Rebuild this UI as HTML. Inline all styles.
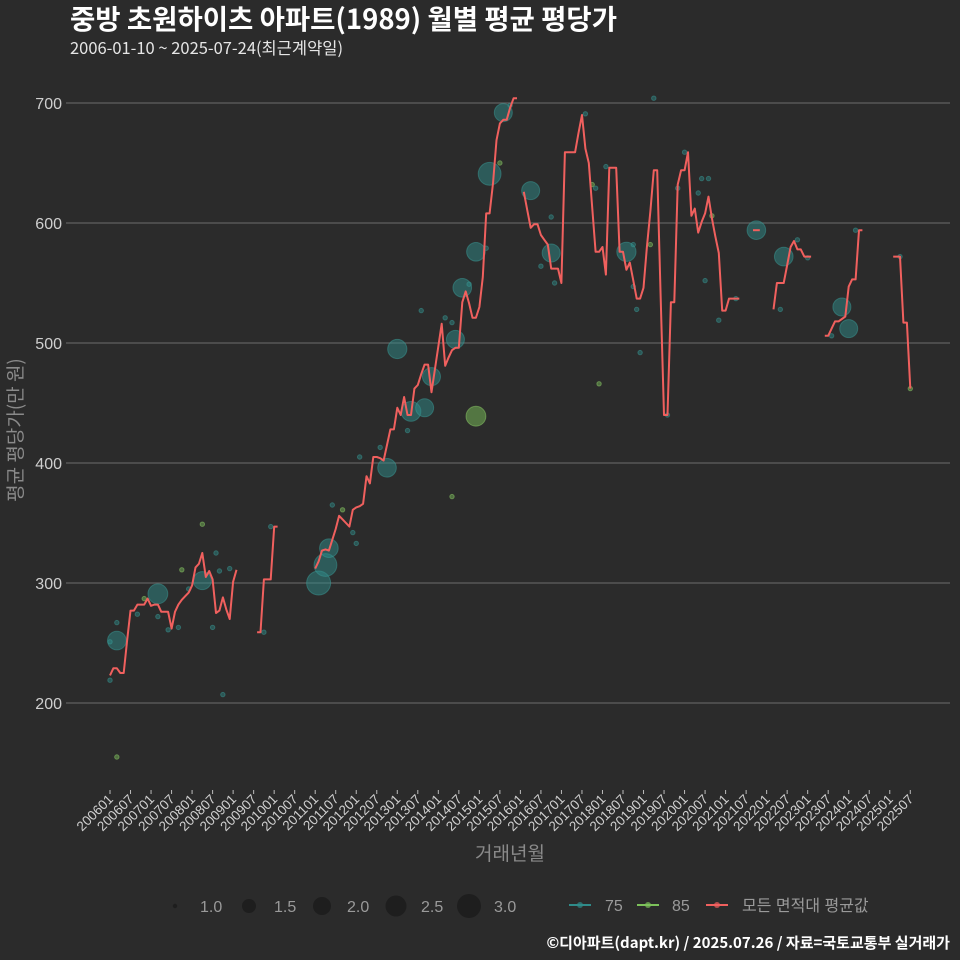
<!DOCTYPE html>
<html><head><meta charset="utf-8">
<style>
html,body{margin:0;padding:0;background:#2b2b2b;}
svg{display:block;font-family:"Liberation Sans","Noto Sans CJK KR",sans-serif;}
</style></head>
<body>
<svg id="chart" width="960" height="960" viewBox="0 0 960 960">
<rect x="0" y="0" width="960" height="960" fill="#2b2b2b"/>
<text x="70" y="29" fill="#ffffff" font-size="27.5" font-weight="bold" font-family="'Noto Sans CJK KR',sans-serif">중방 초원하이츠 아파트(1989) 월별 평균 평당가</text>
<text x="70" y="54" fill="#e6e6e6" font-size="16.5" font-family="'Noto Sans CJK KR',sans-serif">2006-01-10 ~ 2025-07-24(최근계약일)</text>
<g id="grid"></g>
<g id="yticks"></g>
<g id="xticks"></g>
<g id="points"></g>
<g id="line"></g>
<text transform="translate(22,430) rotate(-90)" text-anchor="middle" fill="#8a8a8a" font-size="19" font-family="'Noto Sans CJK KR',sans-serif">평균 평당가(만 원)</text>
<text x="510" y="860" text-anchor="middle" fill="#8a8a8a" font-size="19" font-family="'Noto Sans CJK KR',sans-serif">거래년월</text>
<g id="legend"></g>
<text x="950" y="948" text-anchor="end" fill="#ffffff" font-size="15" font-weight="bold" font-family="'Noto Sans CJK KR',sans-serif">©디아파트(dapt.kr) / 2025.07.26 / 자료=국토교통부 실거래가</text>
</svg>
<script>
// ---- data ----
const yTicks = [200, 300, 400, 500, 600, 700];
const xTickLabels = ["200601","200607","200701","200707","200801","200807","200901","200907","201001","201007","201101","201107","201201","201207","201301","201307","201401","201407","201501","201507","201601","201607","201701","201707","201801","201807","201901","201907","202001","202007","202101","202107","202201","202207","202301","202307","202401","202407","202501","202507"];
const segStart = ["200601","200908","201101","201602","202109","202203","202306","202502"];
const seg1 = [223,229,229,225,225,252,277,277,282,282,282,287,281,282,282,276,276,276,262,276,282,286,289,292,298,313,316,325,305,310,303,275,277,288,278,270,301,311];
const seg2 = [259,259,303,303,303,347,347];
const seg3 = [312,318,327,328,327,336,345,356,353,350,347,361,363,364,366,389,383,405,405,404,402,415,428,428,446,440,455,440,440,462,465,474,482,482,459,478,497,516,481,488,494,496,496,534,543,533,521,521,530,555,608,608,633,669,683,686,686,696,704,704];
const seg4 = [626,611,596,599,599,590,586,582,562,562,562,550,659,659,659,659,675,690,662,650,613,576,576,580,557,646,646,646,576,576,561,567,552,537,537,546,580,610,644,644,540,440,440,534,534,632,644,644,659,606,612,592,601,608,622,604,589,575,527,527,537,537,537,537];
const seg5 = [594,594,594];
const seg6 = [528,550,550,550,565,580,585,578,578,572,572,572];
const seg7 = [506,506,512,518,518,520,522,547,553,553,594,594];
const seg8 = [572,572,572,517,517,462];
const segValues = [seg1,seg2,seg3,seg4,seg5,seg6,seg7,seg8];

const bigMonth = ["200603","200703","200804","201102","201104","201105","201210","201301","201305","201309","201311","201408","201406","201412","201504","201508","201412","201604","201610","201808","202110","202206","202311","202401"];
const bigValue = [252,291,302,300,315,329,396,495,443,446,472,546,503,576,641,692,439,627,575,576,594,572,530,512];
const bigSize  = [2.1,2.3,2.0,3.0,2.8,2.1,2.1,2.2,2.3,2.0,2.0,2.1,2.0,2.1,2.8,2.0,2.3,2.0,2.0,2.2,2.1,2.1,2.0,2.0];
const bigType  = ["75","75","75","75","75","75","75","75","75","75","75","75","75","75","75","75","85","75","75","75","75","75","75","75"];

const smallMonth = ["200601","200601","200603","200603","200609","200611","200703","200706","200709","200710","200712","200804","200807","200808","200809","200810","200812","200910","200912","201106","201109","201112","201201","201202","201208","201308","201304","201403","201405","201405","201410","201503","201507","201510","201610","201607","201611","201708","201710","201711","201712","201802","201810","201810","201812","201904","201903","201811","201908","201911","202001","202006","202008","202005","202009","202011","202007","202104","202205","202210","202301","202308","202403","202504","202507"];
const smallValue = [219,251,267,155,274,287,272,261,263,311,295,349,263,325,310,207,312,259,347,365,361,342,333,405,413,527,427,521,517,372,549,579,650,698,605,564,550,691,632,629,466,647,582,547,492,704,582,528,440,629,659,637,637,625,606,519,552,537,528,586,571,506,594,572,462];
const smallType = ["75","75","75","85","75","85","75","75","75","85","75","85","75","75","75","75","75","75","75","75","85","75","75","75","75","75","75","75","75","85","75","75","85","75","75","75","75","75","85","75","85","75","75","75","75","75","85","75","75","75","75","75","75","75","85","75","75","75","75","75","75","75","75","75","85"];
const legendSizes = [1.0,1.5,2.0,2.5,3.0];

// ---- scales ----
const NS = "http://www.w3.org/2000/svg";
function monthIndex(s){ return (parseInt(s.slice(0,4),10)-2006)*12 + parseInt(s.slice(4,6),10)-1; }
function xScale(m){ return 110 + m*3.42; }
function yScale(v){ return 703 - (v-200)*1.2; }
function rScale(s){
  const ks=[1,1.5,2,2.5,3], rs=[2.2,7,9,10.5,12];
  for(let i=0;i<ks.length-1;i++){ if(s<=ks[i+1]) return rs[i]+(rs[i+1]-rs[i])*(s-ks[i])/(ks[i+1]-ks[i]); }
  return 12;
}
function mk(tag, attrs, parent){ const e=document.createElementNS(NS,tag); for(const k in attrs) e.setAttribute(k,attrs[k]); parent.appendChild(e); return e; }

const grid=document.getElementById('grid'), yt=document.getElementById('yticks'), xt=document.getElementById('xticks');
yTicks.forEach(v=>{
  const l=mk('line',{x1:66,x2:950,y1:yScale(v),y2:yScale(v),stroke:'#6e6e6e','stroke-width':1},grid);
  
  
  const t=mk('text',{x:62,y:yScale(v)+6,'text-anchor':'end',fill:'#cfcfcf','font-size':16},yt);
  t.textContent=v;
  
  
});
xTickLabels.forEach(s=>{
  const x=xScale(monthIndex(s));
  const tk=mk('line',{x1:x,x2:x,y1:790,y2:794,stroke:'#bbbbbb','stroke-width':1},xt);
  
  
  const t=mk('text',{transform:`translate(${x+4},${800}) rotate(-45)`,'text-anchor':'end',fill:'#d0d0d0','font-size':13.5},xt);
  t.textContent=s;
  
  
});

// points
const pg=document.getElementById('points');
function drawPoint(month,value,size,type,big){
  const is85=type==="85";
  const c=mk('circle',{cx:xScale(monthIndex(month)),cy:yScale(value),r:rScale(size),
    fill:is85?'#7cc15a':'#2f8c8a','fill-opacity':big?0.5:0.45,
    stroke:is85?'#8fd06a':'#3a9a96','stroke-opacity':0.5,'stroke-width':1},pg);
  
  
}
const nb=Math.min(bigMonth.length,bigValue.length,bigSize.length,bigType.length);
for(let i=0;i<nb;i++) drawPoint(bigMonth[i],bigValue[i],bigSize[i],bigType[i],true);
const ns=Math.min(smallMonth.length,smallValue.length,smallType.length);
for(let i=0;i<ns;i++) drawPoint(smallMonth[i],smallValue[i],1.0,smallType[i],false);

// line
const lg=document.getElementById('line');
segValues.forEach((vals,si)=>{
  const m0=monthIndex(segStart[si]);
  const d=vals.map((v,j)=>(j?'L':'M')+xScale(m0+j).toFixed(1)+','+yScale(v).toFixed(1)).join(' ');
  const p=mk('path',{d:d,fill:'none',stroke:'#f0605e','stroke-width':2,'stroke-linejoin':'round'},lg);
  
  
});

// legend
const leg=document.getElementById('legend');
const lx=[175,249,322,396,469];
legendSizes.forEach((s,i)=>{
  const c=mk('circle',{cx:lx[i],cy:906,r:rScale(s),fill:'#1e1e1e'},leg);
  
  
  const t=mk('text',{x:lx[i]+25,y:912,fill:'#9a9a9a','font-size':16},leg);
  t.textContent=s.toFixed(1);
  
  
});
const ents=[{x:569,c:'#2f8c8a',label:'75',tx:605},{x:637,c:'#7cc15a',label:'85',tx:672},{x:706,c:'#f0605e',label:'모든 면적대 평균값',tx:742}];
ents.forEach(e=>{
  const g=mk('g',{},leg);
  
  
  mk('line',{x1:e.x,x2:e.x+22,y1:905,y2:905,stroke:e.c,'stroke-width':2},g);
  mk('circle',{cx:e.x+11,cy:905,r:3,fill:e.c,'fill-opacity':0.7},g);
  const t=mk('text',{x:e.tx,y:911,fill:'#9a9a9a','font-size':16,'font-family':"'Liberation Sans','Noto Sans CJK KR',sans-serif"},g);
  t.textContent=e.label;
});
</script>
</body></html>
